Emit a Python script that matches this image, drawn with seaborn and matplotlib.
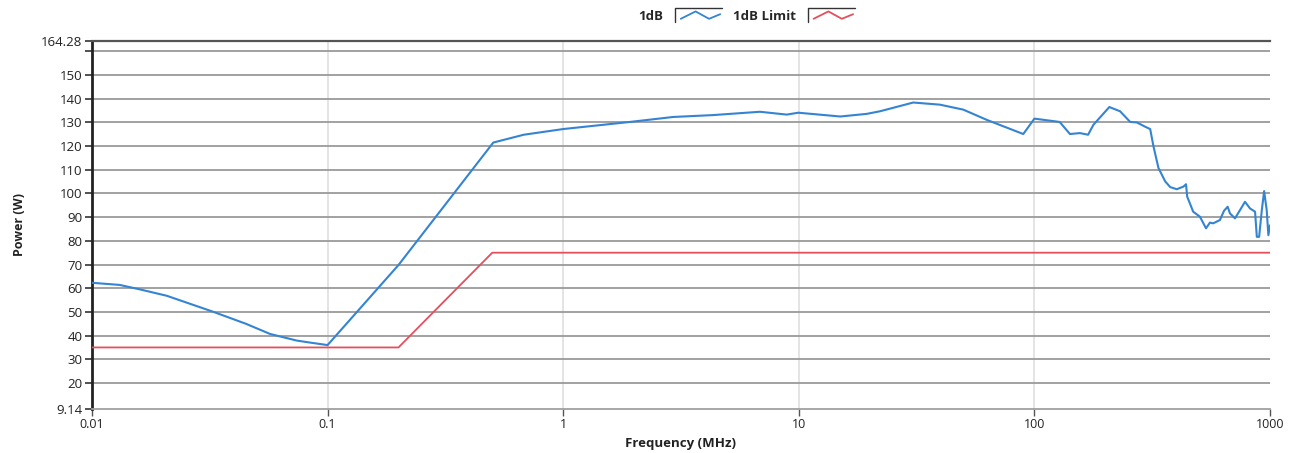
import numpy as np
import pandas as pd
import matplotlib
matplotlib.use("Agg")
import matplotlib.pyplot as plt
import seaborn as sns
from matplotlib.lines import Line2D
from matplotlib.legend_handler import HandlerBase
from matplotlib.ticker import FixedLocator, FixedFormatter, NullLocator

# ---------------- data ----------------
blue_freq = [0.01, 0.0131, 0.016, 0.0208, 0.0326, 0.045, 0.057, 0.074, 0.085, 0.1,
             0.2, 0.505, 0.68, 1.0, 1.92, 2.93, 4.33, 6.84, 8.89, 9.95,
             15, 19.4, 22.1, 30.6, 39.7, 49.9, 62.7, 89.7, 100, 128,
             141.5, 156, 169, 178, 208, 231, 255, 272, 295, 310,
             320, 336, 359, 377, 402, 429, 440, 445, 472, 504,
             535, 556, 574, 613, 638, 661, 676, 710, 746, 783,
             822, 864, 879, 899, 923, 944, 968, 984, 1000]
blue_power = [62.3, 61.4, 59.5, 56.8, 50.1, 45.0, 40.7, 37.9, 37.0, 36.0,
              69.8, 121.5, 124.8, 127.2, 130.2, 132.3, 133.1, 134.5, 133.3, 134.1,
              132.5, 133.6, 134.7, 138.4, 137.5, 135.4, 131.1, 125.1, 131.6, 130.2,
              125.1, 125.5, 124.8, 129.0, 136.5, 134.7, 130.2, 130.0, 128.2, 127.2,
              120.0, 110.8, 105.1, 102.7, 101.8, 102.9, 103.9, 98.7, 92.3, 90.2,
              85.3, 87.7, 87.4, 88.8, 92.7, 94.4, 91.6, 89.5, 93.0, 96.5,
              93.7, 92.3, 81.7, 81.7, 93.0, 101.0, 93.0, 82.4, 86.6]
red_freq = [0.01, 0.2, 0.5, 1000]
red_power = [35, 35, 75, 75]

series_names = ["1dB", "1dB Limit"]
x_ticks = [0.01, 0.1, 1, 10, 100, 1000]
x_tick_labels = ["0.01", "0.1", "1", "10", "100", "1000"]
y_ticks = [9.14, 20, 30, 40, 50, 60, 70, 80, 90, 100, 110, 120, 130, 140, 150, 160, 164.28]
y_tick_labels = ["9.14", "20", "30", "40", "50", "60", "70", "80", "90", "100",
                 "110", "120", "130", "140", "150", "", "164.28"]

BLUE = "#3484d2"
RED = "#e2505c"

sns.set_theme(style="white")
plt.rcParams["font.family"] = ["Open Sans", "DejaVu Sans"]

fig = plt.figure(figsize=(12.97, 4.53), dpi=100)
ax = fig.add_axes([0.0709, 0.0978, 0.9792 - 0.0709, 0.909 - 0.0978])

blue_df = pd.DataFrame({"freq": blue_freq, "power": blue_power})
red_df = pd.DataFrame({"freq": red_freq, "power": red_power})

sns.lineplot(data=blue_df, x="freq", y="power", ax=ax, color=BLUE, lw=1.5,
             sort=False, estimator=None, label=series_names[0], zorder=3)
sns.lineplot(data=red_df, x="freq", y="power", ax=ax, color=RED, lw=1.3,
             sort=False, estimator=None, label=series_names[1], zorder=3)

ax.set_xscale("log")
ax.set_xlim(0.01, 1000)
ax.set_ylim(9.14, 164.28)

ax.xaxis.set_major_locator(FixedLocator(x_ticks))
ax.xaxis.set_major_formatter(FixedFormatter(x_tick_labels))
ax.xaxis.set_minor_locator(NullLocator())
ax.yaxis.set_major_locator(FixedLocator(y_ticks))
ax.yaxis.set_major_formatter(FixedFormatter(y_tick_labels))

# grid lines
for yv in y_ticks[1:-1]:
    ax.axhline(yv, color="#9a9a9a", lw=1.3, zorder=1)
for xv in x_ticks[1:-1]:
    ax.axvline(xv, color="#e2e2e2", lw=1.3, zorder=0)

ax.spines["right"].set_visible(False)
ax.spines["left"].set_color("#222222")
ax.spines["left"].set_linewidth(2.0)
ax.spines["top"].set_color("#555555")
ax.spines["top"].set_linewidth(1.6)
ax.spines["bottom"].set_color("#a0a0a0")
ax.spines["bottom"].set_linewidth(1.3)

ax.tick_params(axis="y", which="major", direction="out", length=5, width=1.2,
               color="#333333", labelsize=9.5, labelcolor="#222222", pad=2, left=True)
ax.tick_params(axis="x", which="major", direction="out", length=5, width=1.0,
               color="#555555", labelsize=9, labelcolor="#222222", pad=2, bottom=True)

ax.set_xlabel("Frequency (MHz)", fontsize=9.5, fontweight="bold", color="#222222", labelpad=4)
ax.set_ylabel("Power (W)", fontsize=9, fontweight="bold", color="#222222", labelpad=11)


class ZigzagHandler(HandlerBase):
    def create_artists(self, legend, orig_handle, xdescent, ydescent, width, height,
                       fontsize, trans):
        x0, y0 = -xdescent, -ydescent
        xs = np.array([x0 + 0.12 * width, x0 + 0.45 * width, x0 + 0.75 * width, x0 + 1.0 * width])
        ys = np.array([y0 + 0.1 * height, y0 + 0.9 * height, y0 + 0.1 * height, y0 + 0.6 * height])
        zig = Line2D(xs, ys, color=orig_handle.get_color(), lw=1.3, transform=trans)
        frame = Line2D([x0 + 1.05 * width, x0, x0], [y0 + 1.25 * height, y0 + 1.25 * height, y0 - 0.25 * height],
                       color="#333333", lw=1.0, transform=trans)
        return [frame, zig]


handles = [Line2D([], [], color=BLUE), Line2D([], [], color=RED)]
ax.legend(handles=handles, labels=series_names, loc="center",
          bbox_to_anchor=(0.555, 1.068), ncol=2, frameon=False, markerfirst=False,
          handler_map={Line2D: ZigzagHandler()}, handlelength=3.4, handletextpad=0.9,
          columnspacing=1.0, prop={"weight": "bold", "size": 9.5})

fig.savefig("out.png", dpi=100, facecolor="white")
